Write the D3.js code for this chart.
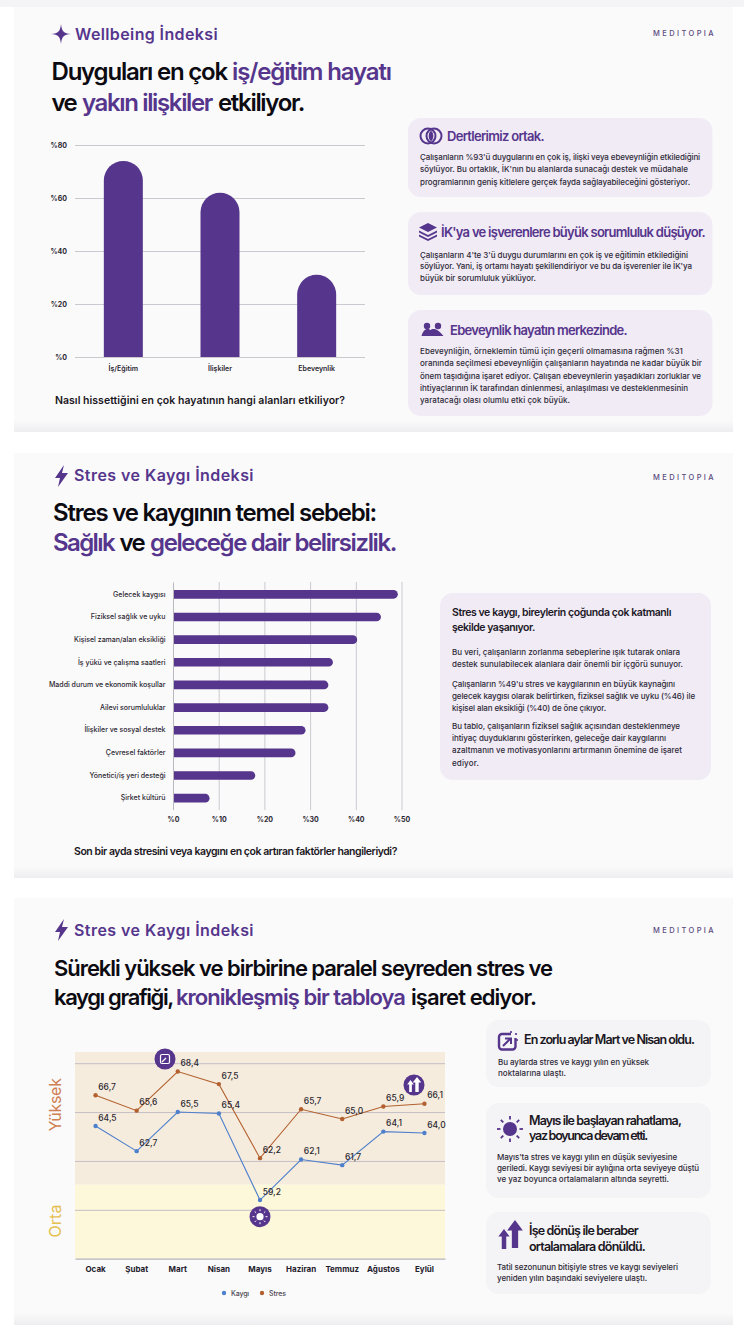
<!DOCTYPE html>
<html><head><meta charset="utf-8">
<script src="https://cdn.jsdelivr.net/npm/d3@7"></script>
<style>html,body{margin:0;padding:0;background:#fff}svg{display:block}text{font-family:Inter,"Noto Sans",sans-serif}</style>
</head><body><div id="c"></div>
<script>
// ---- data ----
const areaCats = ["İş/Eğitim","İlişkiler","Ebeveynlik"];
const areaVals = [74,62,31];
const areaTicks = [0,20,40,60,80];
const causeCats = ["Gelecek kaygısı","Fiziksel sağlık ve uyku","Kişisel zaman/alan eksikliği","İş yükü ve çalışma saatleri","Maddi durum ve ekonomik koşullar","Ailevi sorumluluklar","İlişkiler ve sosyal destek","Çevresel faktörler","Yönetici/iş yeri desteği","Şirket kültürü"];
const causeVals = [49.2,45.5,40.3,35,34,34,29,26.8,18,8];
const causeTicks = [0,10,20,30,40,50];
const months = ["Ocak","Şubat","Mart","Nisan","Mayıs","Haziran","Temmuz","Ağustos","Eylül"];
const kaygi = [64.5,62.7,65.5,65.4,59.2,62.1,61.7,64.1,64.0];
const stres = [66.7,65.6,68.4,67.5,62.2,65.7,65.0,65.9,66.1];
const gridVals = [69,65.5,62,58.5];

const PURPLE="#56358c", INK="#0d0b12", BODY="#2e2a38", GRID="#cbc9cf";
const W=744,H=1342;
const svg=d3.select("#c").append("svg").attr("width",W).attr("height",H).attr("viewBox",`0 0 ${W} ${H}`);
const defs=svg.append("defs");
const g=defs.append("linearGradient").attr("id","fade").attr("x1",0).attr("x2",0).attr("y1",0).attr("y2",1);
g.append("stop").attr("offset",0).attr("stop-color","#fafafb");
g.append("stop").attr("offset",1).attr("stop-color","#eeeef0");

function txt(x,y,s,size,weight,fill,x2,anchor){
  const t=svg.append("text").attr("x",x).attr("y",y).text(s).attr("font-size",size).attr("font-weight",weight).attr("fill",fill);
  if(anchor)t.attr("text-anchor",anchor);
  if(x2!=null){
    const nat=t.node().getComputedTextLength();
    t.attr("letter-spacing",((x2-x-nat)/s.length).toFixed(3));
  }
  return t;
}
function card(x,y,x2,y2,fill){svg.append("rect").attr("x",x).attr("y",y).attr("width",x2-x).attr("height",y2-y).attr("rx",13).attr("fill",fill);}
function icon(d,tx,ty,sc,fill){return svg.append("path").attr("d",d).attr("transform",`translate(${tx},${ty}) scale(${sc||1})`).attr("fill",fill||PURPLE);}

// panels
svg.append("rect").attr("width",W).attr("height",7).attr("fill","#f4f4f6");
[[7,432],[453,878],[898,1325]].forEach(([a,b])=>{
  svg.append("rect").attr("x",14).attr("y",a).attr("width",719).attr("height",b-a-12).attr("fill","#fafafb");
  svg.append("rect").attr("x",14).attr("y",b-12).attr("width",719).attr("height",12).attr("fill","url(#fade)");
});
[36,480,933].forEach(y=>{txt(653,y,"MEDITOPIA",7.5,500,"#5a4a80",716);});

const STAR="M0,-10 C0.8,-2.5 2.5,-0.8 10,0 C2.5,0.8 0.8,2.5 0,10 C-0.8,2.5 -2.5,0.8 -10,0 C-2.5,-0.8 -0.8,-2.5 0,-10Z";
const BOLT="M3,-11 L-6,2 L-1,2 L-3,11 L7,-3 L1,-3 Z";

// ---- panel 1 ----
icon(STAR,61,34);
txt(75,40,"Wellbeing İndeksi",16,600,PURPLE,218);
txt(51.5,80,"Duyguları en çok",24,600,INK,227);
txt(232,80,"iş/eğitim hayatı",24,600,PURPLE,391);
txt(51.5,111,"ve",24,600,INK,76);
txt(82,111,"yakın ilişkiler",24,600,PURPLE,212);
txt(218,111,"etkiliyor.",24,600,INK,304);

const y1=d3.scaleLinear().domain([0,80]).range([357,145]);
const x1=d3.scaleBand().domain(areaCats).range([75,365]).paddingInner(0.6).paddingOuter(0.3).align(0.5);
const ax1=svg.append("g").attr("transform","translate(75,0)")
  .call(d3.axisLeft(y1).tickValues(areaTicks).tickFormat(d=>"%"+d).tickSize(-290).tickPadding(8));
ax1.select(".domain").remove();
ax1.selectAll("line").attr("stroke",GRID).attr("stroke-width",1);
ax1.selectAll("text").attr("font-size",7).attr("font-weight",700).attr("fill","#2a2630");
const bw1=39;
svg.selectAll(".b1").data(areaCats).join("path").attr("fill",PURPLE)
  .attr("d",(c,i)=>{const cx=x1(c)+x1.bandwidth()/2,l=cx-bw1/2,r=bw1/2,t=y1(areaVals[i]),b=y1(0);
    return `M${l},${b}V${t+r}A${r},${r} 0 0 1 ${l+bw1},${t+r}V${b}Z`;});
const ax1b=svg.append("g").attr("transform","translate(0,357)").call(d3.axisBottom(x1).tickSize(0).tickPadding(9));
ax1b.select(".domain").remove();
ax1b.selectAll("text").attr("font-size",7).attr("font-weight",600).attr("fill","#2a2630");
txt(55,404,"Nasıl hissettiğini en çok hayatının hangi alanları etkiliyor?",10.5,600,"#1a1722",345);

const C1="#f1ebf5";
card(408,118,712.5,197,C1);card(408,212,712.5,295,C1);card(408,310,712.5,416,C1);
svg.append("circle").attr("cx",428).attr("cy",136).attr("r",7.5).attr("fill","none").attr("stroke",PURPLE).attr("stroke-width",2);
svg.append("circle").attr("cx",434).attr("cy",136).attr("r",7.5).attr("fill","none").attr("stroke",PURPLE).attr("stroke-width",2);
svg.append("path").attr("d","M431,130.5 A7.5,7.5 0 0 1 431,141.5 A7.5,7.5 0 0 1 431,130.5Z").attr("fill",PURPLE);
txt(447,140.5,"Dertlerimiz ortak.",13,600,PURPLE,544);
[["Çalışanların %93'ü duygularını en çok iş, ilişki veya ebeveynliğin etkilediğini",700,160],
 ["söylüyor. Bu ortaklık, İK'nın bu alanlarda sunacağı destek ve müdahale",688,172],
 ["programlarının geniş kitlelere gerçek fayda sağlayabileceğini gösteriyor.",690,185]
].forEach(l=>txt(420,l[2],l[0],8,500,BODY,l[1]));
icon("M0,-8 L9,-3.5 L0,1 L-9,-3.5Z M-9,-0.5 L0,4 L9,-0.5 L9,1.5 L0,6 L-9,1.5Z M-9,3.5 L0,8 L9,3.5 L9,5.5 L0,10 L-9,5.5Z",428,231);
txt(441,236.5,"İK'ya ve işverenlere büyük sorumluluk düşüyor.",13,600,PURPLE,705);
[["Çalışanların 4'te 3'ü duygu durumlarını en çok iş ve eğitimin etkilediğini",688,258],
 ["söylüyor. Yani, iş ortamı hayatı şekillendiriyor ve bu da işverenler ile İK'ya",692,269],
 ["büyük bir sorumluluk yüklüyor.",536,281]
].forEach(l=>txt(420,l[2],l[0],8,500,BODY,l[1]));
[[427,326,3.2],[438,326,3.2]].forEach(c=>svg.append("circle").attr("cx",c[0]).attr("cy",c[1]).attr("r",c[2]).attr("fill",PURPLE));
icon("M-11,7 C-9,-1 -4,-1 -2,1 C0,-1 5,-1 11,7 Z",432.5,329);
txt(450,335,"Ebeveynlik hayatın merkezinde.",13,600,PURPLE,627);
[["Ebeveynliğin, örneklemin tümü için geçerli olmamasına rağmen %31",683,354],
 ["oranında seçilmesi ebeveynliğin çalışanların hayatında ne kadar büyük bir",702,366],
 ["önem taşıdığına işaret ediyor. Çalışan ebeveynlerin yaşadıkları zorluklar ve",701,379],
 ["ihtiyaçlarının İK tarafından dinlenmesi, anlaşılması ve desteklenmesinin",688,391],
 ["yaratacağı olası olumlu etki çok büyük.",570,403]
].forEach(l=>txt(420,l[2],l[0],8,500,BODY,l[1]));

// ---- panel 2 ----
icon(BOLT,61,476);
txt(74,481,"Stres ve Kaygı İndeksi",16,600,PURPLE,254);
txt(53,520.5,"Stres ve kaygının temel sebebi:",24,600,INK,376);
txt(53,551,"Sağlık",24,600,PURPLE,114);
txt(119.5,551,"ve",24,600,INK,144);
txt(150,551,"geleceğe dair belirsizlik.",24,600,PURPLE,396);

const x2=d3.scaleLinear().domain([0,50]).range([173,401.5]);
const y2=d3.scaleBand().domain(causeCats).range([583,809.5]).paddingInner(0.62).paddingOuter(0.31);
const ax2=svg.append("g").attr("transform","translate(0,810)")
  .call(d3.axisBottom(x2).tickValues(causeTicks).tickFormat(d=>"%"+d).tickSize(-228).tickPadding(7));
ax2.select(".domain").remove();
ax2.selectAll("line").attr("stroke",GRID).attr("stroke-width",1);
ax2.selectAll("text").attr("font-size",7).attr("font-weight",700).attr("fill","#2a2630");
svg.selectAll(".b2").data(causeCats).join("path").attr("fill",PURPLE)
  .attr("d",(c,i)=>{const t=y2(c),h=y2.bandwidth(),r=h/2,e=x2(causeVals[i]),s=x2(0);
    return `M${s},${t}H${e-r}A${r},${r} 0 0 1 ${e-r},${t+h}H${s}Z`;});
const ay2=svg.append("g").attr("transform","translate(173,0)").call(d3.axisLeft(y2).tickSize(0).tickPadding(7.5));
ay2.select(".domain").attr("stroke","#b9b7be");
ay2.selectAll("text").attr("font-size",7).attr("font-weight",500).attr("fill","#2a2630");
txt(74,855,"Son bir ayda stresini veya kaygını en çok artıran faktörler hangileriydi?",10.5,600,"#1a1722",397);

card(440,593,711,780,C1);
txt(452,616,"Stres ve kaygı, bireylerin çoğunda çok katmanlı",10.5,600,"#1c1826",671);
txt(452,630.5,"şekilde yaşanıyor.",10.5,600,"#1c1826",535);
[["Bu veri, çalışanların zorlanma sebeplerine ışık tutarak onlara",680,655],
 ["destek sunulabilecek alanlara dair önemli bir içgörü sunuyor.",683,667],
 ["Çalışanların %49'u stres ve kaygılarının en büyük kaynağını",675,686.5],
 ["gelecek kaygısı olarak belirtirken, fiziksel sağlık ve uyku (%46) ile",695,699],
 ["kişisel alan eksikliği (%40) de öne çıkıyor.",606,711],
 ["Bu tablo, çalışanların fiziksel sağlık açısından desteklenmeye",680,729],
 ["ihtiyaç duyduklarını gösterirken, geleceğe dair kaygılarını",666,741],
 ["azaltmanın ve motivasyonlarını artırmanın önemine de işaret",682,753],
 ["ediyor.",479,766]
].forEach(l=>txt(452,l[2],l[0],8,500,BODY,l[1]));

// ---- panel 3 ----
icon(BOLT,61,930);
txt(74,936,"Stres ve Kaygı İndeksi",16,600,PURPLE,254);
txt(54,976,"Sürekli yüksek ve birbirine paralel seyreden stres ve",22,600,INK,552);
txt(54,1005,"kaygı grafiği,",22,600,INK,173);
txt(176,1005,"kronikleşmiş bir tabloya",22,600,PURPLE,405);
txt(411,1005,"işaret ediyor.",22,600,INK,536);

const y3=d3.scaleLinear().domain([55,69.8]).range([1258.7,1052]);
const x3=d3.scaleBand().domain(months).range([75,445]);
const cx=m=>x3(m)+x3.bandwidth()/2;
svg.append("rect").attr("x",75).attr("width",370).attr("y",y3(69.8)).attr("height",y3(60.3)-y3(69.8)).attr("fill","#f6ecdd");
svg.append("rect").attr("x",75).attr("width",370).attr("y",y3(60.3)).attr("height",y3(55)-y3(60.3)).attr("fill","#fdf8d9");
const ay3=svg.append("g").attr("transform","translate(75,0)").call(d3.axisLeft(y3).tickValues(gridVals).tickFormat("").tickSize(-370));
ay3.select(".domain").remove();
ay3.selectAll("line").attr("stroke","#c4bfc6").attr("stroke-width",1);
const ax3=svg.append("g").attr("transform","translate(0,1258.7)").call(d3.axisBottom(x3).tickSize(0).tickPadding(8));
ax3.select(".domain").attr("stroke","#b5b3b8").attr("stroke-width",1.2);
ax3.selectAll("text").attr("font-size",8).attr("font-weight",700).attr("fill","#24202c");

const line=d3.line().x((d,i)=>cx(months[i])).y(d=>y3(d));
[[stres,"#b2602f"],[kaygi,"#4f80cc"]].forEach(([s,col])=>{
  svg.append("path").attr("d",line(s)).attr("fill","none").attr("stroke",col).attr("stroke-width",1.1);
  s.forEach((v,i)=>{
    svg.append("circle").attr("cx",cx(months[i])).attr("cy",y3(v)).attr("r",2.2).attr("fill",col);
    txt(cx(months[i])+2.7,y3(v)-5.5,v.toFixed(1).replace(".",","),8.5,500,"#2b2730");
  });
});
svg.append("text").attr("transform","translate(61,1105) rotate(-90)").attr("text-anchor","middle").text("Yüksek").attr("font-size",16).attr("fill","#cf7f52").attr("letter-spacing",-0.3);
svg.append("text").attr("transform","translate(61,1221) rotate(-90)").attr("text-anchor","middle").text("Orta").attr("font-size",16).attr("fill","#e6bf50");

// callouts
[[165,1059],[260,1216.7],[414,1085]].forEach(c=>svg.append("circle").attr("cx",c[0]).attr("cy",c[1]).attr("r",10.5).attr("fill",PURPLE));
svg.append("rect").attr("x",160.5).attr("y",1054.5).attr("width",9).attr("height",9).attr("rx",1.5).attr("fill","none").attr("stroke","#fff").attr("stroke-width",1.2);
svg.append("path").attr("d","M162,1062 L166,1058 M168,1056 l0.1,0").attr("stroke","#fff").attr("stroke-width",1.2);
svg.append("circle").attr("cx",260).attr("cy",1216.7).attr("r",3.6).attr("fill","#fff");
d3.range(8).forEach(i=>{const a=i*Math.PI/4;svg.append("line").attr("x1",260+5.5*Math.cos(a)).attr("y1",1216.7+5.5*Math.sin(a)).attr("x2",260+7.5*Math.cos(a)).attr("y2",1216.7+7.5*Math.sin(a)).attr("stroke","#fff").attr("stroke-width",1);});
const UP="M0,-8 L4.5,-2 L1.8,-2 L1.8,8 L-1.8,8 L-1.8,-2 L-4.5,-2Z";
icon(UP,410.5,1086,0.75,"#fff");icon(UP,417,1084.5,0.95,"#fff");

// legend
[["Kaygı",224,"#4f80cc",249],["Stres",262,"#b2602f",286]].forEach(l=>{
  svg.append("circle").attr("cx",l[1]).attr("cy",1293).attr("r",2.2).attr("fill",l[2]);
  txt(l[1]+7,1295.5,l[0],7,500,"#4b4752",l[3]);
});

const C3="#f4f3f5";
card(486,1020,711,1087,C3);card(486,1103,711,1198,C3);card(486,1212,711,1294,C3);
svg.append("rect").attr("x",499).attr("y",1034).attr("width",16.5).attr("height",15.5).attr("rx",3).attr("fill","none").attr("stroke",PURPLE).attr("stroke-width",2.4);
svg.append("rect").attr("x",511).attr("y",1030).attr("width",9).attr("height",8).attr("fill",C3);
svg.append("path").attr("d","M503,1046 L510,1039 M505,1038.5 H511 V1044").attr("fill","none").attr("stroke",PURPLE).attr("stroke-width",2);
[[511,1032],[516,1034],[517,1040]].forEach(c=>svg.append("circle").attr("cx",c[0]).attr("cy",c[1]).attr("r",1.1).attr("fill",PURPLE));
txt(524,1044,"En zorlu aylar Mart ve Nisan oldu.",12.5,600,"#1a1722",694);
txt(498,1065,"Bu aylarda stres ve kaygı yılın en yüksek",8,500,BODY,649);
txt(498,1076,"noktalarına ulaştı.",8,500,BODY,566);

svg.append("circle").attr("cx",510).attr("cy",1129).attr("r",7).attr("fill",PURPLE);
d3.range(8).forEach(i=>{const a=i*Math.PI/4;svg.append("line").attr("x1",510+9.5*Math.cos(a)).attr("y1",1129+9.5*Math.sin(a)).attr("x2",510+13*Math.cos(a)).attr("y2",1129+13*Math.sin(a)).attr("stroke",PURPLE).attr("stroke-width",1.8);});
txt(529,1125,"Mayıs ile başlayan rahatlama,",12.5,600,"#1a1722",681);
txt(529,1140,"yaz boyunca devam etti.",12.5,600,"#1a1722",647);
[["Mayıs'ta stres ve kaygı yılın en düşük seviyesine",677,1160],
 ["geriledi. Kaygı seviyesi bir aylığına orta seviyeye düştü",699,1171],
 ["ve yaz boyunca ortalamaların altında seyretti.",669,1182]
].forEach(l=>txt(497,l[2],l[0],8,500,BODY,l[1]));

icon(UP,504,1239,1.25);icon(UP,515,1234,1.75);
txt(529,1235,"İşe dönüş ile beraber",12.5,600,"#1a1722",638);
txt(529,1251,"ortalamalara dönüldü.",12.5,600,"#1a1722",645);
txt(497,1270,"Tatil sezonunun bitişiyle stres ve kaygı seviyeleri",8,500,BODY,678);
txt(497,1281,"yeniden yılın başındaki seviyelere ulaştı.",8,500,BODY,647);
</script></body></html>
